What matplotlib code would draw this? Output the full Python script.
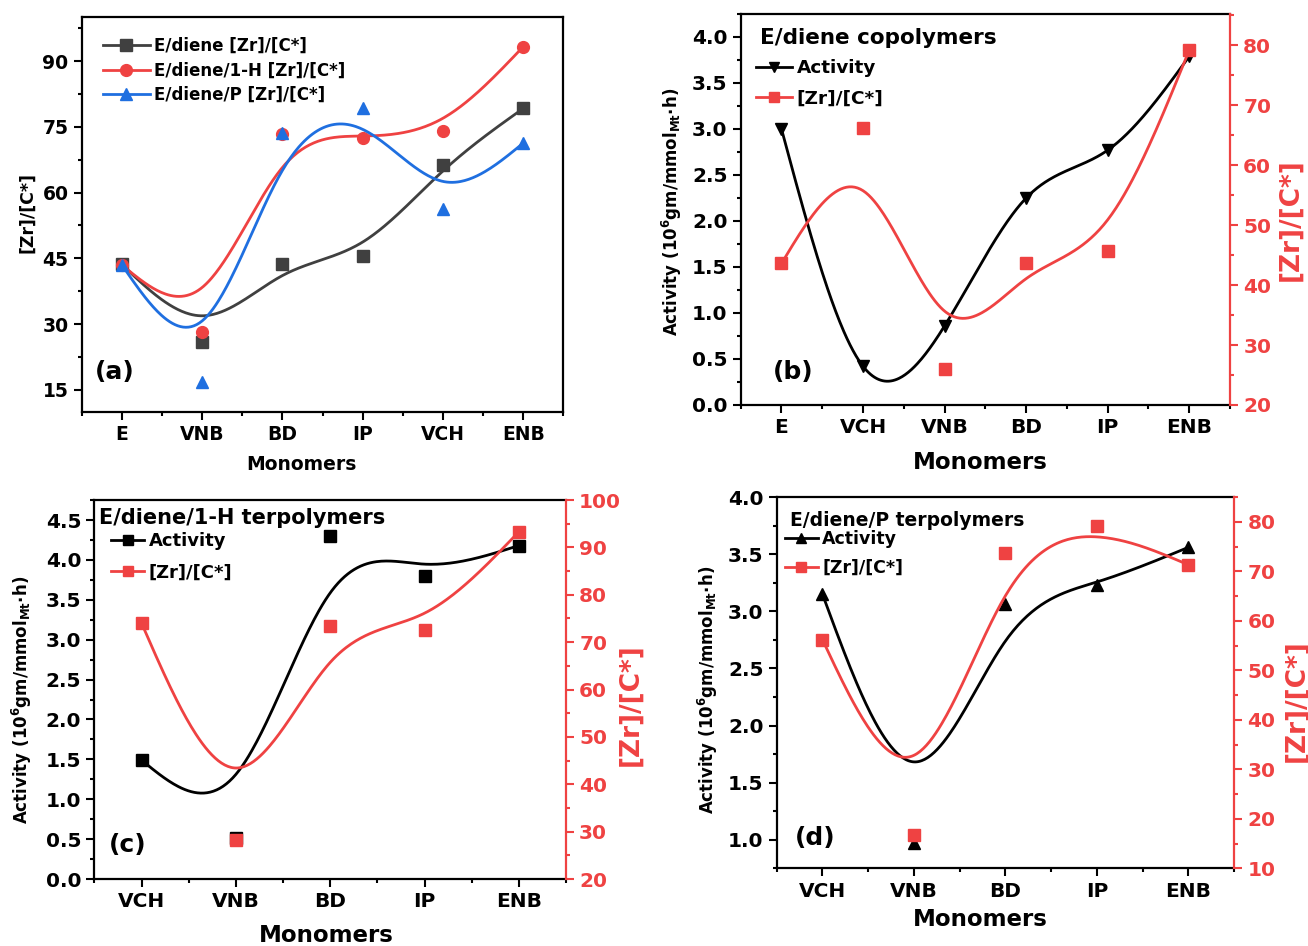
import numpy as np
import matplotlib.pyplot as plt
from matplotlib.lines import Line2D
from matplotlib.ticker import MultipleLocator

plt.rcParams['font.family'] = ['DejaVu Sans']
plt.rcParams['font.weight'] = 'bold'
plt.rcParams['axes.labelweight'] = 'bold'
plt.rcParams['mathtext.default'] = 'regular'

RED = '#ef4242'
GRAY = '#404040'
BLUE = '#1f6fe0'

# [Zr]/[C*] for each diene, same monomer order as panel (a)
monomers_all = ["E", "VNB", "BD", "IP", "VCH", "ENB"]
zr_ed = [43.6, 26.0, 43.7, 45.6, 66.2, 79.2]
zr_edh = [43.5, 28.3, 73.4, 72.5, 74.0, 93.3]
zr_edp = [43.5, 16.8, 73.6, 79.2, 56.2, 71.3]

# activity series (10^6 g / mmol Mt h)
order_b = ["E", "VCH", "VNB", "BD", "IP", "ENB"]
activity_ed = [3.00, 0.42, 0.86, 2.25, 2.77, 3.79]
order_cd = ["VCH", "VNB", "BD", "IP", "ENB"]
activity_edh = [1.49, 0.52, 4.30, 3.80, 4.18]
activity_edp = [3.15, 0.97, 3.06, 3.23, 3.56]

ACT_LABEL = r'Activity (10$^{6}$gm/mmol$_{\mathbf{Mt}}$$\cdot$h)'


def reorder(values, order):
    return [values[monomers_all.index(m)] for m in order]


def bspline(y, n=60):
    # uniform cubic B-spline, end points mirrored so the curve hits both ends
    y = np.asarray(y, float)
    x = np.arange(len(y), dtype=float)
    px = np.concatenate([[2 * x[0] - x[1]], x, [2 * x[-1] - x[-2]]])
    py = np.concatenate([[2 * y[0] - y[1]], y, [2 * y[-1] - y[-2]]])
    t = np.linspace(0, 1, n)
    b0 = (1 - t) ** 3 / 6
    b1 = (3 * t ** 3 - 6 * t ** 2 + 4) / 6
    b2 = (-3 * t ** 3 + 3 * t ** 2 + 3 * t + 1) / 6
    b3 = t ** 3 / 6
    xs, ys = [], []
    for i in range(len(y) - 1):
        xs.append(b0 * px[i] + b1 * px[i + 1] + b2 * px[i + 2] + b3 * px[i + 3])
        ys.append(b0 * py[i] + b1 * py[i + 1] + b2 * py[i + 2] + b3 * py[i + 3])
    return np.concatenate(xs), np.concatenate(ys)


def natural_spline(y, n=400):
    # interpolating cubic spline with zero curvature at the ends
    y = np.asarray(y, float)
    x = np.arange(len(y), dtype=float)
    m = len(y)
    h = np.diff(x)
    A = np.zeros((m, m))
    r = np.zeros(m)
    A[0, 0] = A[-1, -1] = 1
    for i in range(1, m - 1):
        A[i, i - 1] = h[i - 1]
        A[i, i] = 2 * (h[i - 1] + h[i])
        A[i, i + 1] = h[i]
        r[i] = 6 * ((y[i + 1] - y[i]) / h[i] - (y[i] - y[i - 1]) / h[i - 1])
    M = np.linalg.solve(A, r)
    xs = np.linspace(x[0], x[-1], n)
    idx = np.clip(np.searchsorted(x, xs) - 1, 0, m - 2)
    x0, x1 = x[idx], x[idx + 1]
    hh = x1 - x0
    ys = (M[idx] * (x1 - xs) ** 3 / (6 * hh) + M[idx + 1] * (xs - x0) ** 3 / (6 * hh)
          + (y[idx] / hh - M[idx] * hh / 6) * (x1 - xs)
          + (y[idx + 1] / hh - M[idx + 1] * hh / 6) * (xs - x0))
    return xs, ys


def style_axis(ax, labelsize):
    for s in ax.spines.values():
        s.set_linewidth(1.6)
    ax.tick_params(which='major', direction='out', length=6, width=1.5,
                   labelsize=labelsize, top=False, right=False)
    ax.tick_params(which='minor', direction='out', length=3, width=1.5,
                   top=False, right=False)
    ax.xaxis.set_minor_locator(MultipleLocator(0.5))


def style_right(ax2, labelsize):
    for name, s in ax2.spines.items():
        s.set_visible(name == 'right')
    ax2.spines['right'].set_color(RED)
    ax2.spines['right'].set_linewidth(1.6)
    ax2.tick_params(which='major', direction='out', length=6, width=1.5,
                    labelsize=labelsize, colors=RED)
    ax2.tick_params(which='minor', direction='out', length=3, width=1.5,
                    colors=RED)
    ax2.yaxis.set_major_locator(MultipleLocator(10))
    ax2.yaxis.set_minor_locator(MultipleLocator(5))


fig = plt.figure(figsize=(13.08, 9.46), dpi=100)

# (a) [Zr]/[C*] for the three systems
ax = fig.add_axes([0.0625, 0.5648, 0.3682, 0.4169])
xa = np.arange(len(monomers_all))
series_a = [(zr_ed, GRAY, 's', 'E/diene [Zr]/[C*]'),
            (zr_edh, RED, 'o', 'E/diene/1-H [Zr]/[C*]'),
            (zr_edp, BLUE, '^', 'E/diene/P [Zr]/[C*]')]
handles = []
for vals, col, mk, lab in series_a:
    cx, cy = bspline(vals)
    ax.plot(cx, cy, color=col, lw=2)
    ax.plot(xa, vals, mk, color=col, ms=8.5, ls='none')
    handles.append(Line2D([], [], color=col, lw=2, marker=mk, ms=8.5, label=lab))
ax.set_xlim(-0.5, 5.5)
ax.set_ylim(10, 100)
ax.set_xticks(xa)
ax.set_xticklabels(monomers_all)
ax.yaxis.set_major_locator(MultipleLocator(15))
ax.yaxis.set_minor_locator(MultipleLocator(7.5))
style_axis(ax, 13.5)
ax.set_xlabel('Monomers', fontsize=13.5, va='center')
ax.xaxis.set_label_coords(0.457, -0.135)
ax.set_ylabel('[Zr]/[C*]', fontsize=12.5, va='center')
ax.yaxis.set_label_coords(-0.114, 0.504)
ax.legend(handles=handles, loc='upper left', bbox_to_anchor=(0.044, 0.95),
          frameon=False, fontsize=12, handlelength=2.8, handletextpad=0.25,
          labelspacing=0.39, borderpad=0, borderaxespad=0)
ax.text(0.069, 0.10, '(a)', transform=ax.transAxes, fontsize=18,
        ha='center', va='center')


def dual_panel(rect, order, act, zr, act_mk, act_curve, ylim, zlim, yminor,
               title, tpos, tsize, leg, tag, tagpos, xlab, ylab, zlab, fs):
    ax = fig.add_axes(rect)
    x = np.arange(len(order))
    cx, cy = act_curve(act)
    ax.plot(cx, cy, color='black', lw=2)
    ax.plot(x, act, act_mk, color='black', ms=8.5, ls='none')
    ax.set_xlim(-0.5, len(order) - 0.5)
    ax.set_ylim(*ylim)
    ax.set_xticks(x)
    ax.set_xticklabels(order)
    ax.yaxis.set_major_locator(MultipleLocator(0.5))
    ax.yaxis.set_minor_locator(MultipleLocator(yminor))
    style_axis(ax, fs)
    ax.spines['right'].set_visible(False)

    ax2 = ax.twinx()
    zx, zy = bspline(zr)
    ax2.plot(zx, zy, color=RED, lw=2)
    ax2.plot(x, zr, 's', color=RED, ms=8.5, ls='none')
    ax2.set_ylim(*zlim)
    style_right(ax2, fs)
    ax2.set_xlim(-0.5, len(order) - 0.5)

    ax.set_xlabel('Monomers', fontsize=16.5, va='center')
    ax.xaxis.set_label_coords(*xlab)
    ax.set_ylabel(ACT_LABEL, fontsize=12, va='center')
    ax.yaxis.set_label_coords(*ylab)
    ax2.set_ylabel('[Zr]/[C*]', fontsize=19, color=RED, va='center')
    ax2.yaxis.set_label_coords(*zlab)

    ax.text(tpos[0], tpos[1], title, transform=ax.transAxes, fontsize=tsize,
            ha='left', va='center')
    h = [Line2D([], [], color='black', lw=2, marker=act_mk, ms=7.5, label='Activity'),
         Line2D([], [], color=RED, lw=2, marker='s', ms=7.5, label='[Zr]/[C*]')]
    ax2.legend(handles=h, loc='upper left', bbox_to_anchor=leg[0], frameon=False,
               fontsize=leg[1], handlelength=leg[2], handletextpad=0.25,
               labelspacing=leg[3], borderpad=0, borderaxespad=0)
    ax.text(tagpos[0], tagpos[1], tag, transform=ax.transAxes, fontsize=18,
            ha='center', va='center')
    return ax, ax2


# (b) E/diene copolymers
dual_panel([0.5663, 0.5719, 0.3741, 0.4133], order_b, activity_ed,
           reorder(zr_ed, order_b), 'v', natural_spline, (0, 4.25), (20, 85.2), 0.25,
           'E/diene copolymers', (0.039, 0.939), 15.5,
           ((0.031, 0.884), 13.3, 1.95, 0.67), '(b)', (0.107, 0.084),
           (0.489, -0.146), (-0.140, 0.494), (1.123, 0.473), 14.5)

# (c) E/diene/1-H terpolymers
dual_panel([0.0722, 0.0708, 0.3605, 0.4006], order_cd, activity_edh,
           reorder(zr_edh, order_cd), 's', bspline, (0, 4.75), (20, 100), 0.25,
           'E/diene/1-H terpolymers', (0.01, 0.953), 15,
           ((0.036, 0.915), 13, 1.83, 0.72), '(c)', (0.071, 0.09),
           (0.491, -0.150), (-0.154, 0.472), (1.136, 0.459), 14.5)

# (d) E/diene/P terpolymers
dual_panel([0.5938, 0.0821, 0.3498, 0.3925], order_cd, activity_edp,
           reorder(zr_edp, order_cd), '^', bspline, (0.75, 4.0), (10, 85), 0.25,
           'E/diene/P terpolymers', (0.029, 0.938), 13.5,
           ((0.018, 0.911), 12.5, 1.9, 0.62), '(d)', (0.084, 0.081),
           (0.444, -0.139), (-0.150, 0.48), (1.135, 0.453), 14.5)

fig.savefig('out.png', dpi=100)
